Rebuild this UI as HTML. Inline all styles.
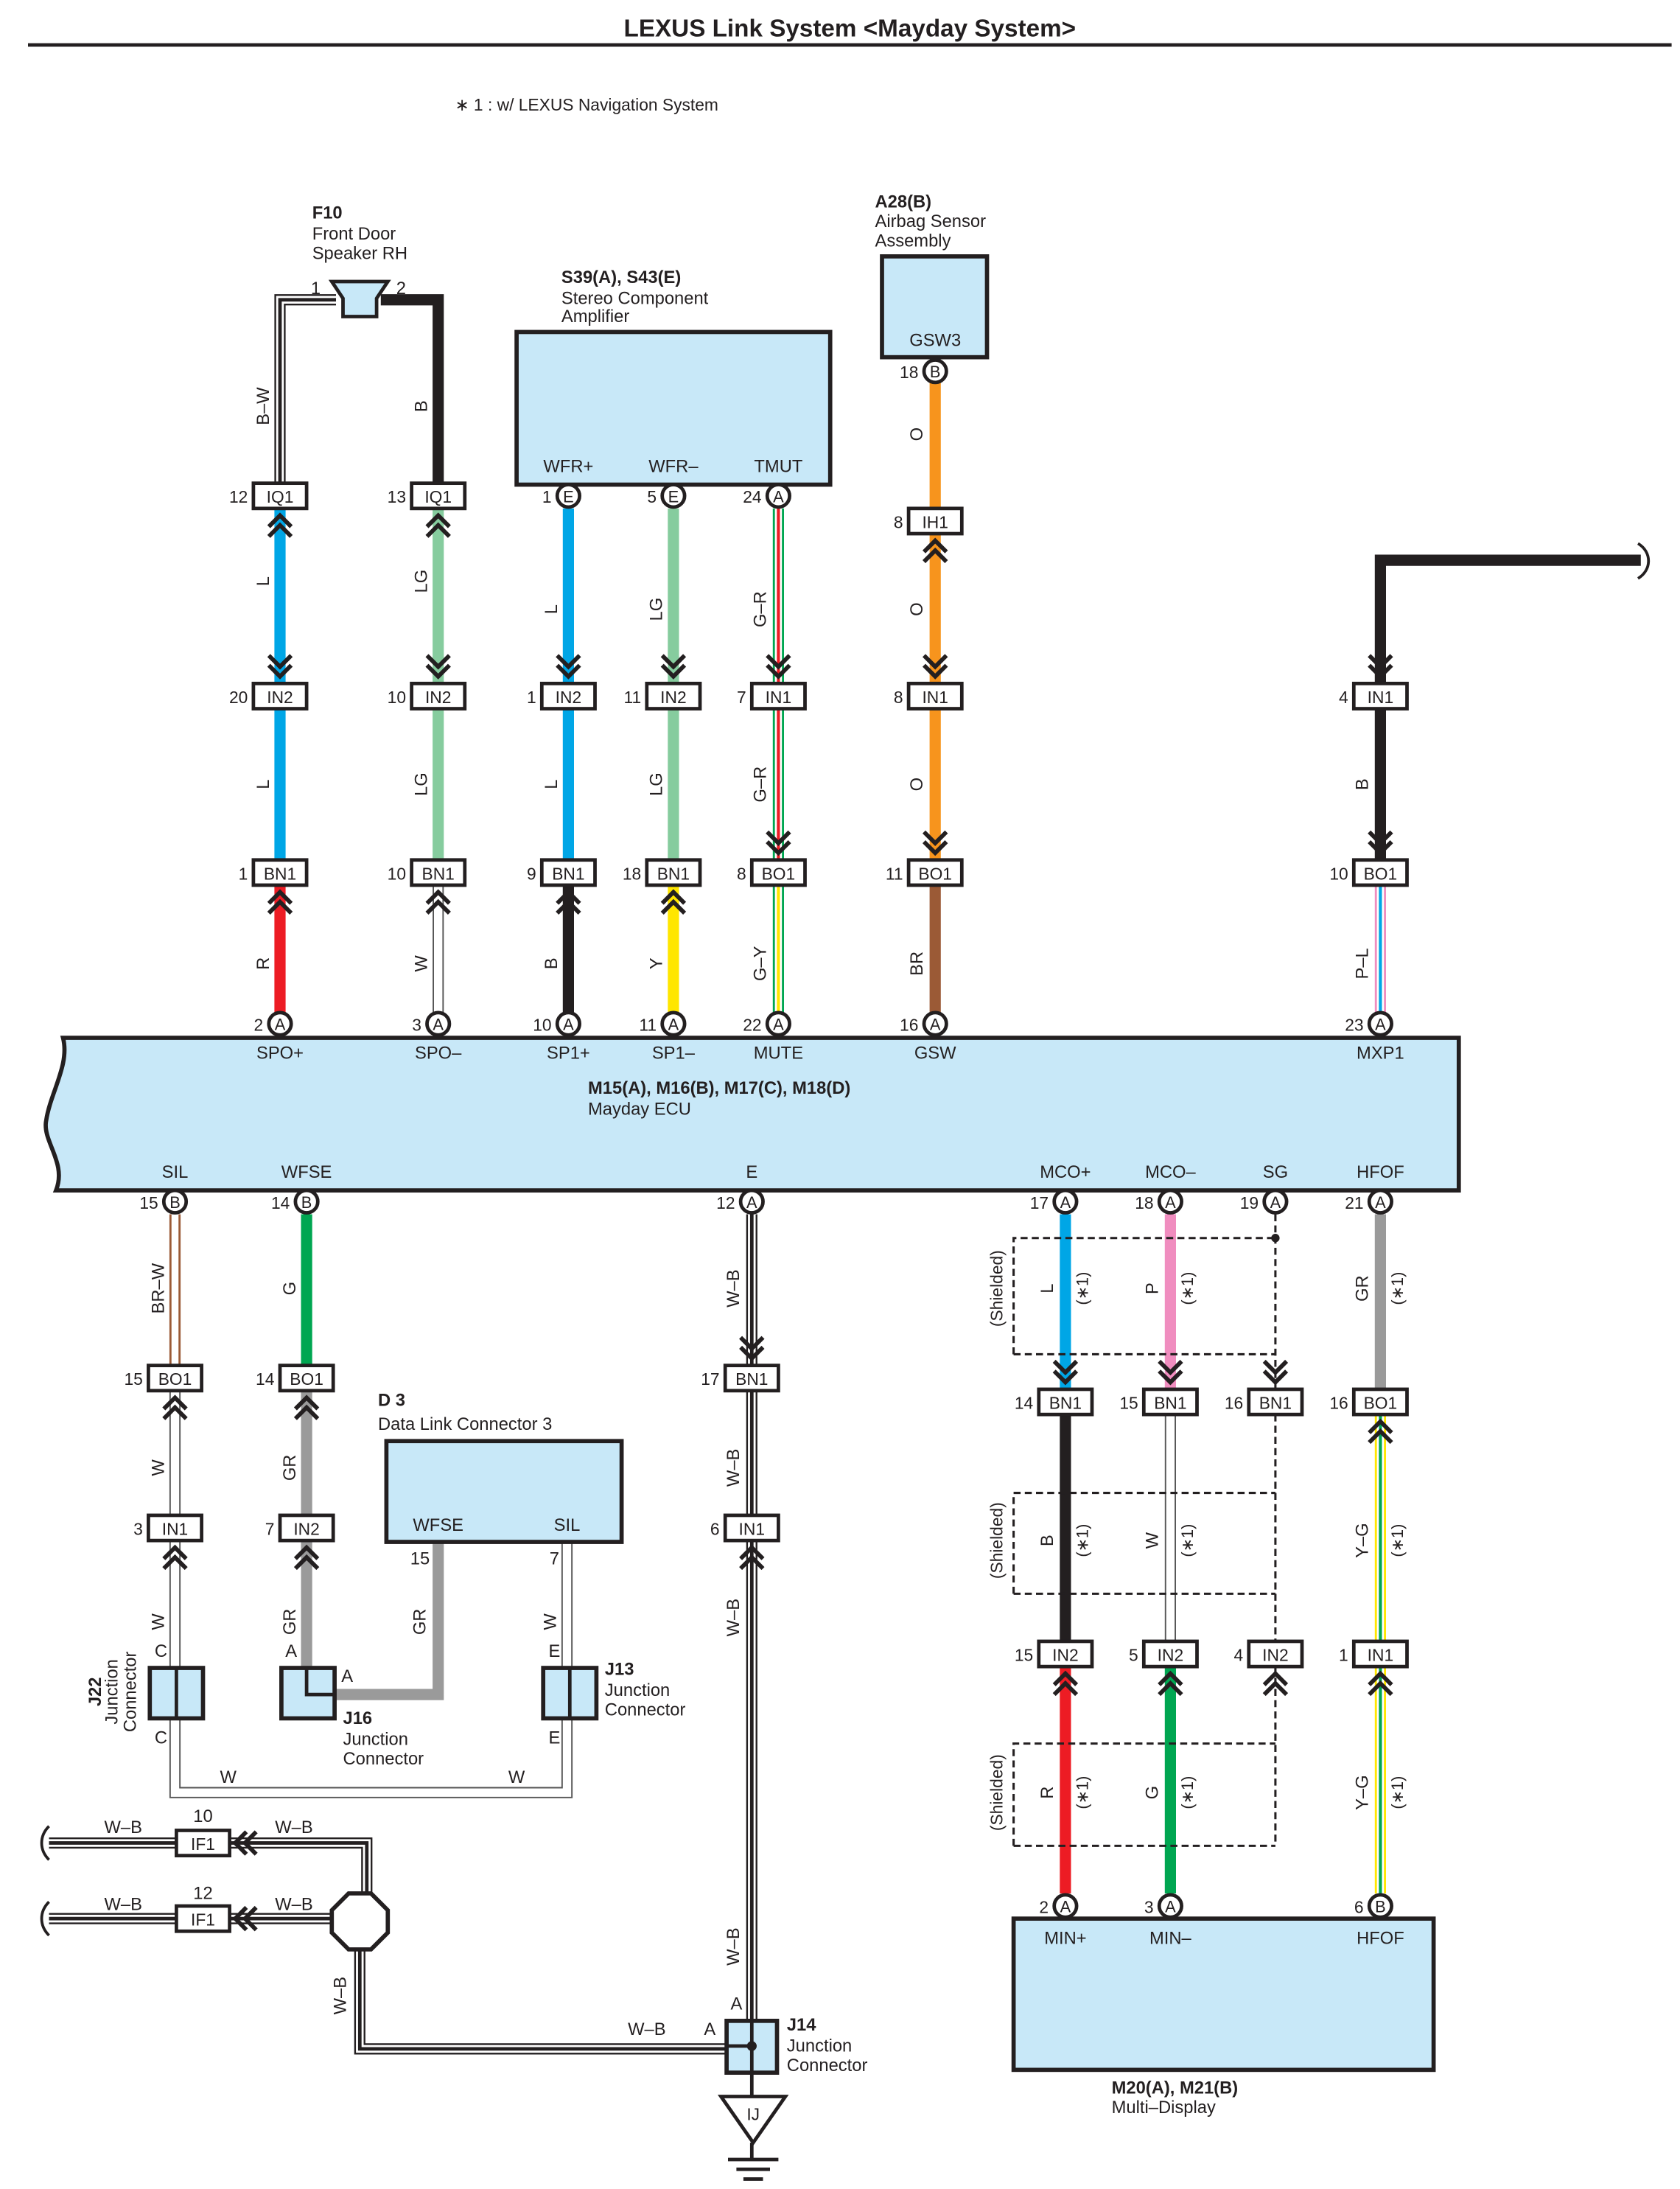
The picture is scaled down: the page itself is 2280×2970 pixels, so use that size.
<!DOCTYPE html>
<html><head><meta charset="utf-8"><style>
html,body{margin:0;padding:0;background:#fff}
svg{display:block}
text{font-family:"Liberation Sans",Arial,sans-serif;fill:#231f20}
</style></head><body>
<svg id="s" xmlns="http://www.w3.org/2000/svg" width="2280" height="2970" viewBox="0 0 1200 1563">
<rect width="1200" height="1563" fill="#fff"/>
<text x="607" y="26" font-size="17.5" font-weight="bold" text-anchor="middle">LEXUS Link System &lt;Mayday System&gt;</text>
<line x1="20" y1="32" x2="1194" y2="32" stroke="#231f20" stroke-width="2.5"/>
<text x="325" y="79" font-size="12">∗ 1 : w/ LEXUS Navigation System</text>
</svg>
<script>
const S=document.getElementById('s');const NS='http://www.w3.org/2000/svg';
function el(t,a,txt){const e=document.createElementNS(NS,t);for(const k in a)e.setAttribute(k,a[k]);if(txt!==undefined)e.textContent=txt;S.appendChild(e);return e;}
function T(x,y,s,o={}){return el('text',Object.assign({x:x,y:y,'font-size':12.5},o),s);}
function R(x,y,s,o={}){return el('text',Object.assign({x:x,y:y,'font-size':12.5,'text-anchor':'middle',transform:`rotate(-90 ${x} ${y})`},o),s);}
function P(d,c,w,o={}){return el('path',Object.assign({d:d,stroke:c,'stroke-width':w,fill:'none'},o));}
const C={L:'#00a6e6',LG:'#86cc9e',R:'#ed1c24',B:'#231f20',Y:'#ffe600',O:'#f7941d',BR:'#9b5a36',G:'#00a651',GR:'#9a9a9a',P:'#f08dbf'};
function wp(d,t){
 if(t=='W'){P(d,'#555',8);P(d,'#fff',6);}
 else if(t=='WB'){P(d,'#231f20',8);P(d,'#fff',5.5);P(d,'#231f20',2.5);}
 else if(t.indexOf('-')>0){const [a,b]=t.split('-');P(d,C[a],8);P(d,'#fff',5);P(d,C[b],2.2);}
 else P(d,C[t],8);
}
function w(x,y1,y2,t){wp(`M${x} ${y1}V${y2}`,t);}
function conn(x,y,l,pin){el('rect',{x:x-19,y:y-9,width:38,height:18,fill:'#fff',stroke:'#231f20','stroke-width':2.5});T(x,y+5,l,{'text-anchor':'middle','font-size':12});if(pin!==undefined)T(x-23,y+5,pin,{'text-anchor':'end','font-size':12});}
function circ(x,y,l,pin){el('circle',{cx:x,cy:y,r:8,fill:'#fff',stroke:'#231f20','stroke-width':2.5});T(x,y+4.5,l,{'text-anchor':'middle','font-size':11.5});if(pin!==undefined)T(x-12,y+5,pin,{'text-anchor':'end','font-size':12});}
function cd(x,y){
 P(`M${x-8} ${y-20}L${x} ${y-12}L${x+8} ${y-20}M${x-8} ${y-13}L${x} ${y-5}L${x+8} ${y-13}`,'#231f20',3);}
function cu(x,y){
 P(`M${x-8} ${y+20}L${x} ${y+12}L${x+8} ${y+20}M${x-8} ${y+13}L${x} ${y+5}L${x+8} ${y+13}`,'#231f20',3);}
function box(x1,y1,x2,y2){el('rect',{x:x1,y:y1,width:x2-x1,height:y2-y1,fill:'#c8e8f8',stroke:'#231f20','stroke-width':3});}

T(223,156,'F10',{'font-weight':'bold'});T(223,171,'Front Door');T(223,185,'Speaker RH');
wp('M240 214H200V345','WB');wp('M272 214H313V345','B');
el('polygon',{points:'237,201 277,201 269,213 269,226 245,226 245,213',fill:'#c8e8f8',stroke:'#231f20','stroke-width':2.5});
T(229,210,'1',{'text-anchor':'end'});T(283,210,'2');
T(401,202,'S39(A), S43(E)',{'font-weight':'bold'});T(401,217,'Stereo Component');T(401,230,'Amplifier');
box(369,237,593,346);T(406,337,'WFR+',{'text-anchor':'middle'});T(481,337,'WFR–',{'text-anchor':'middle'});T(556,337,'TMUT',{'text-anchor':'middle'});
T(625,148,'A28(B)',{'font-weight':'bold'});T(625,162,'Airbag Sensor');T(625,176,'Assembly');
box(630,183,705,255);T(668,247,'GSW3',{'text-anchor':'middle'});
wp('M986 488V400H1172','B');P('M1170 388C1180 394 1180 407 1170 413','#231f20',2);

w(200,363,488,'L');w(200,506,614,'L');w(200,632,723,'R');
w(313,363,488,'LG');w(313,506,614,'LG');w(313,632,723,'W');
w(406,363,488,'L');w(406,506,614,'L');w(406,632,723,'B');
w(481,363,488,'LG');w(481,506,614,'LG');w(481,632,723,'Y');
w(556,363,488,'G-R');w(556,506,614,'G-R');w(556,632,723,'G-Y');
w(668,273,363,'O');w(668,381,488,'O');w(668,506,614,'O');w(668,632,723,'BR');
w(986,506,614,'B');w(986,632,723,'P-L');

conn(200,354,'IQ1',12);conn(313,354,'IQ1',13);cu(200,363);cu(313,363);
circ(406,354,'E',1);circ(481,354,'E',5);circ(556,354,'A',24);circ(668,265,'B',18);
conn(668,372,'IH1',8);cu(668,381);
[[200,'IN2',20],[313,'IN2',10],[406,'IN2',1],[481,'IN2',11],[556,'IN1',7],[668,'IN1',8],[986,'IN1',4]].forEach(a=>{conn(a[0],497,a[1],a[2]);cd(a[0],488);});
[[200,'BN1',1],[313,'BN1',10],[406,'BN1',9],[481,'BN1',18]].forEach(a=>{conn(a[0],623,a[1],a[2]);cu(a[0],632);});
[[556,'BO1',8],[668,'BO1',11],[986,'BO1',10]].forEach(a=>{conn(a[0],623,a[1],a[2]);cd(a[0],614);});
[[200,'A',2],[313,'A',3],[406,'A',10],[481,'A',11],[556,'A',22],[668,'A',16],[986,'A',23]].forEach(a=>circ(a[0],731,a[1],a[2]));

[['B–W',188,290],['B',301,290],['L',188,415],['LG',301,415],['L',394,435],['LG',469,435],['G–R',543,435],['O',655,310],['O',655,435],
['L',188,560],['LG',301,560],['L',394,560],['LG',469,560],['G–R',543,560],['O',655,560],['B',973,560],
['R',188,688],['W',301,688],['B',394,688],['Y',469,688],['G–Y',543,688],['BR',655,688],['P–L',973,688]].forEach(a=>R(a[1]+4,a[2],a[0]));

el('path',{d:'M45 741H1042V850H40C48 830 30 815 33 800C36 780 50 760 45 741Z',fill:'#c8e8f8',stroke:'#231f20','stroke-width':3});
[['SPO+',200],['SPO–',313],['SP1+',406],['SP1–',481],['MUTE',556],['GSW',668],['MXP1',986]].forEach(a=>T(a[1],756,a[0],{'text-anchor':'middle'}));
T(420,781,'M15(A), M16(B), M17(C), M18(D)',{'font-weight':'bold'});T(420,796,'Mayday ECU');
[['SIL',125],['WFSE',219],['E',537],['MCO+',761],['MCO–',836],['SG',911],['HFOF',986]].forEach(a=>T(a[1],841,a[0],{'text-anchor':'middle'}));

w(125,867,975,'BR-W');w(125,993,1082,'W');w(125,1100,1191,'W');
w(219,867,975,'G');w(219,993,1082,'GR');w(219,1100,1191,'GR');
w(537,867,975,'WB');w(537,993,1082,'WB');w(537,1100,1443,'WB');
w(761,867,992,'L');w(761,1010,1172,'B');w(761,1190,1352,'R');
w(836,867,992,'P');w(836,1010,1172,'W');w(836,1190,1352,'G');
w(986,867,992,'GR');w(986,1010,1172,'Y-G');w(986,1190,1352,'Y-G');
wp('M313 1101V1210H239','GR');
wp('M405 1101V1191','W');
wp('M125 1227V1280H405V1227','W');
const dash={'stroke-dasharray':'5 3'};
[[884,967],[1066,1138],[1245,1318]].forEach(a=>{P(`M724 ${a[1]}V${a[0]}H911M724 ${a[1]}H911`,'#231f20',1.6,dash);});
P('M911 867V992','#231f20',1.6,dash);P('M911 1010V1172','#231f20',1.6,dash);P('M911 1190V1318','#231f20',1.6,dash);
el('circle',{cx:911,cy:884,r:3,fill:'#231f20'});
R(716,920,'(Shielded)',{'font-size':12});R(716,1100,'(Shielded)',{'font-size':12});R(716,1280,'(Shielded)',{'font-size':12});

[[125,'B',15],[219,'B',14],[537,'A',12],[761,'A',17],[836,'A',18],[911,'A',19],[986,'A',21]].forEach(a=>circ(a[0],858,a[1],a[2]));
conn(125,984,'BO1',15);cu(125,993);conn(219,984,'BO1',14);cu(219,993);conn(537,984,'BN1',17);cd(537,975);
conn(125,1091,'IN1',3);cu(125,1100);conn(219,1091,'IN2',7);cu(219,1100);conn(537,1091,'IN1',6);cu(537,1100);
[[761,'BN1',14],[836,'BN1',15],[911,'BN1',16]].forEach(a=>{conn(a[0],1001,a[1],a[2]);cd(a[0],992);});
conn(986,1001,'BO1',16);cu(986,1010);
[[761,'IN2',15],[836,'IN2',5],[911,'IN2',4],[986,'IN1',1]].forEach(a=>{conn(a[0],1181,a[1],a[2]);cu(a[0],1190);});
circ(761,1361,'A',2);circ(836,1361,'A',3);circ(986,1361,'B',6);

T(270,1004,'D 3',{'font-weight':'bold'});T(270,1021,'Data Link Connector 3');
box(276,1029,444,1101);T(313,1093,'WFSE',{'text-anchor':'middle'});T(405,1093,'SIL',{'text-anchor':'middle'});
T(300,1117,'15',{'text-anchor':'middle'});T(396,1117,'7',{'text-anchor':'middle'});
box(107,1191,145,1227);P('M126 1191V1227','#231f20',2.5);
T(115,1183,'C',{'text-anchor':'middle'});T(115,1245,'C',{'text-anchor':'middle'});
R(72,1208,'J22',{'font-weight':'bold'});R(84,1208,'Junction');R(97,1208,'Connector');
box(201,1191,239,1227);P('M219 1191V1210H239','#231f20',2.5);
T(208,1183,'A',{'text-anchor':'middle'});T(248,1201,'A',{'text-anchor':'middle'});
T(245,1231,'J16',{'font-weight':'bold'});T(245,1246,'Junction');T(245,1260,'Connector');
box(388,1191,426,1227);P('M407 1191V1227','#231f20',2.5);
T(396,1183,'E',{'text-anchor':'middle'});T(396,1245,'E',{'text-anchor':'middle'});
T(432,1196,'J13',{'font-weight':'bold'});T(432,1211,'Junction');T(432,1225,'Connector');
T(163,1273,'W',{'text-anchor':'middle'});T(369,1273,'W',{'text-anchor':'middle'});

wp('M35 1316H125','WB');wp('M35 1370H125','WB');
wp('M165 1316H262V1352','WB');wp('M165 1370H237','WB');
wp('M257 1392V1463H519','WB');
el('polygon',{points:'249,1352 265,1352 277,1364 277,1380 265,1392 249,1392 237,1380 237,1364',fill:'#fff',stroke:'#231f20','stroke-width':3});
conn(145,1316,'IF1');conn(145,1370,'IF1');
[1316,1370].forEach(y=>P(`M183 ${y-8}L175 ${y}L183 ${y+8}M176 ${y-8}L168 ${y}L176 ${y+8}`,'#231f20',3));
[1316,1370].forEach(y=>P(`M35 ${y-12}C28 ${y-5} 28 ${y+5} 35 ${y+12}`,'#231f20',2));
T(88,1309,'W–B',{'text-anchor':'middle'});T(145,1301,'10',{'text-anchor':'middle'});T(210,1309,'W–B',{'text-anchor':'middle'});
T(88,1364,'W–B',{'text-anchor':'middle'});T(145,1356,'12',{'text-anchor':'middle'});T(210,1364,'W–B',{'text-anchor':'middle'});
R(247,1425,'W–B');T(462,1453,'W–B',{'text-anchor':'middle'});T(507,1453,'A',{'text-anchor':'middle'});T(526,1435,'A',{'text-anchor':'middle'});
box(519,1443,555,1480);P('M537 1443V1480M519 1461H537','#231f20',2.5);el('circle',{cx:537,cy:1461,r:3.5,fill:'#231f20'});
T(562,1450,'J14',{'font-weight':'bold'});T(562,1465,'Junction');T(562,1479,'Connector');
P('M537 1480V1497','#231f20',2.5);
el('polygon',{points:'515,1497 561,1497 538,1530',fill:'#fff',stroke:'#231f20','stroke-width':2.5});
T(538,1514,'IJ',{'text-anchor':'middle','font-size':12});
P('M537 1530V1542M520 1542H556M526 1549H550M531 1556H545','#231f20',2.5);

box(724,1370,1024,1478);
T(761,1388,'MIN+',{'text-anchor':'middle'});T(836,1388,'MIN–',{'text-anchor':'middle'});T(986,1388,'HFOF',{'text-anchor':'middle'});
T(794,1495,'M20(A), M21(B)',{'font-weight':'bold'});T(794,1509,'Multi–Display');

[['BR–W',113,920],['G',207,920],['W–B',524,920],['L',748,920],['P',823,920],['GR',973,920],
['W',113,1048],['GR',207,1048],['W–B',524,1048],['B',748,1100],['W',823,1100],['Y–G',973,1100],
['W',113,1158],['GR',207,1158],['W–B',524,1155],['R',748,1280],['G',823,1280],['Y–G',973,1280],['W–B',524,1390],['GR',300,1158],['W',393,1158]].forEach(a=>R(a[1]+4,a[2],a[0]));
[[773,920],[848,920],[998,920],[773,1100],[848,1100],[998,1100],[773,1280],[848,1280],[998,1280]].forEach(a=>R(a[0]+4,a[1],'(∗1)',{'font-size':11.5}));
</script>
</body></html>
